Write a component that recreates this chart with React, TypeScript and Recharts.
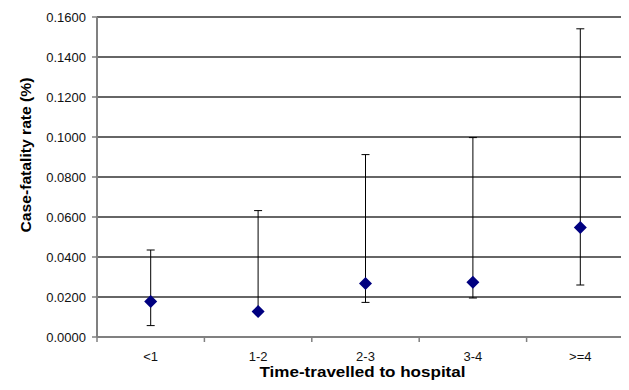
import {
  ComposedChart,
  Scatter,
  ErrorBar,
  XAxis,
  YAxis,
  CartesianGrid,
} from "recharts";

const groups = ["<1", "1-2", "2-3", "3-4", ">=4"];
const rates = [0.0177, 0.0127, 0.0268, 0.0274, 0.0547];
const lowerCI = [0.0057, 0.0127, 0.0173, 0.0195, 0.026];
const upperCI = [0.0435, 0.0632, 0.0912, 0.0997, 0.1541];
const yTicks = [0, 0.02, 0.04, 0.06, 0.08, 0.1, 0.12, 0.14, 0.16];

const CHART_W = 640;
const CHART_H = 390;
const AXIS_W = 97;
const RIGHT = 6;
const FONT = "'Liberation Sans', Arial, sans-serif";
const AXIS_GREY = "#808080";

const rows = groups.map((label, i) => ({
  label,
  rate: rates[i],
  ci: [rates[i] - lowerCI[i], upperCI[i] - rates[i]],
}));

// half of one category's slot, used for padding and boundary tick marks
const half = (CHART_W - AXIS_W - RIGHT) / groups.length / 2;

function Diamond(props: any) {
  const { cx, cy } = props;
  if (cx == null || cy == null) return null;
  const r = 6.5;
  return (
    <polygon
      points={`${cx},${cy - r} ${cx + r},${cy} ${cx},${cy + r} ${cx - r},${cy}`}
      fill="#000080"
    />
  );
}

function CategoryTick(props: any) {
  const { x, y, payload, index } = props;
  return (
    <g>
      {index === 0 && (
        <line x1={x - half} x2={x - half} y1={y} y2={y + 5} stroke={AXIS_GREY} strokeWidth={1.5} />
      )}
      <line x1={x + half} x2={x + half} y1={y} y2={y + 5} stroke={AXIS_GREY} strokeWidth={1.5} />
      <text x={x} y={y + 24} textAnchor="middle" fontSize={13} fill="#111" fontFamily={FONT}>
        {payload.value}
      </text>
    </g>
  );
}

function YTitle(props: any) {
  const { viewBox } = props;
  const cx = 25;
  const cy = viewBox.y + viewBox.height / 2 - 22;
  return (
    <text
      x={cx}
      y={cy}
      transform={`rotate(-90 ${cx} ${cy})`}
      textAnchor="middle"
      dominantBaseline="central"
      fontSize={15}
      fontWeight="bold"
      fill="#000"
      fontFamily={FONT}
      textLength={155}
      lengthAdjust="spacingAndGlyphs"
    >
      Case-fatality rate (%)
    </text>
  );
}

function XTitle(props: any) {
  const { viewBox } = props;
  return (
    <text
      x={viewBox.x + viewBox.width / 2 - 3}
      y={377}
      textAnchor="middle"
      fontSize={15}
      fontWeight="bold"
      fill="#000"
      fontFamily={FONT}
      textLength={206}
      lengthAdjust="spacingAndGlyphs"
    >
      Time-travelled to hospital
    </text>
  );
}

export default function App() {
  return (
    <div
      style={{
        margin: -8,
        width: 629,
        height: 390,
        overflow: "hidden",
        background: "#fff",
      }}
    >
      <ComposedChart
        width={CHART_W}
        height={CHART_H}
        data={rows}
        margin={{ top: 17, right: RIGHT, bottom: 0, left: 0 }}
      >
        <CartesianGrid vertical={false} stroke="#333" strokeWidth={1.5} />
        <XAxis
          dataKey="label"
          type="category"
          height={53}
          padding={{ left: half, right: half }}
          tickLine={false}
          tickSize={0}
          tickMargin={0}
          interval={0}
          tick={<CategoryTick />}
          axisLine={{ stroke: AXIS_GREY, strokeWidth: 2 }}
          label={<XTitle />}
        />
        <YAxis
          type="number"
          domain={[0, 0.16]}
          ticks={yTicks}
          interval={0}
          width={AXIS_W}
          tickSize={5}
          tickMargin={6}
          tickFormatter={(v: number) => v.toFixed(4)}
          tick={{ fontSize: 13, fill: "#111", fontFamily: FONT }}
          tickLine={{ stroke: AXIS_GREY, strokeWidth: 1.5 }}
          axisLine={{ stroke: AXIS_GREY, strokeWidth: 2 }}
          label={<YTitle />}
        />
        <Scatter dataKey="rate" shape={<Diamond />} isAnimationActive={false}>
          <ErrorBar
            dataKey="ci"
            direction="y"
            width={4}
            stroke="#000"
            strokeWidth={1}
            isAnimationActive={false}
          />
        </Scatter>
      </ComposedChart>
    </div>
  );
}
